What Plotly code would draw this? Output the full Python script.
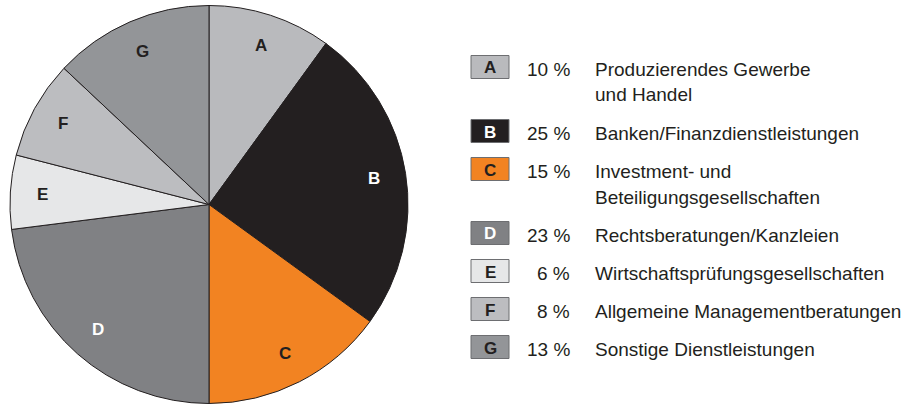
import plotly.graph_objects as go
import math

letters = ["A", "B", "C", "D", "E", "F", "G"]
values = [10, 25, 15, 23, 6, 8, 13]
descriptions = [
    "Produzierendes Gewerbe\nund Handel",
    "Banken/Finanzdienstleistungen",
    "Investment- und\nBeteiligungsgesellschaften",
    "Rechtsberatungen/Kanzleien",
    "Wirtschaftsprüfungsgesellschaften",
    "Allgemeine Managementberatungen",
    "Sonstige Dienstleistungen",
]
colors = ["#b9babd", "#231f20", "#f28322", "#808184", "#e6e7e8", "#bcbdc0", "#939598"]
letter_colors = ["#231f20", "#ffffff", "#231f20", "#ffffff", "#231f20", "#231f20", "#231f20"]

W, H = 919, 405
FONT = "Liberation Sans, Arial, sans-serif"

# pie geometry in pixels
left, right, top, bottom = 10, 408, 5, 404
cx = (left + right) / 2
cy = (top + bottom) / 2
r = min(right - left, bottom - top) / 2

def px(x):
    return x / W

def py(y):
    return 1 - y / H

fig = go.Figure()
fig.add_trace(go.Pie(
    values=values,
    labels=letters,
    sort=False,
    direction="clockwise",
    rotation=0,
    marker=dict(colors=colors, line=dict(color="#231f20", width=1)),
    textinfo="none",
    hoverinfo="label+percent",
    showlegend=False,
    domain=dict(x=[px(left), px(right)], y=[py(bottom), py(top)]),
))

annotations = []
shapes = []
total = sum(values)
cum = 0
for letter, v, lc in zip(letters, values, letter_colors):
    mid = (cum + v / 2) / total * 2 * math.pi
    cum += v
    lx = cx + 0.84 * r * math.sin(mid)
    ly = cy - 0.84 * r * math.cos(mid)
    annotations.append(dict(
        x=px(lx), y=py(ly), xref="paper", yref="paper",
        text=f"<b>{letter}</b>", showarrow=False,
        font=dict(family=FONT, size=17, color=lc),
        xanchor="center", yanchor="middle",
    ))

# legend
TXT = 19
row_y = 67
box_x0, box_x1 = 471, 509
for letter, v, desc, col, lc in zip(letters, values, descriptions, colors, letter_colors):
    shapes.append(dict(
        type="rect", xref="paper", yref="paper",
        x0=px(box_x0), x1=px(box_x1), y0=py(row_y + 11.5), y1=py(row_y - 11.5),
        fillcolor=col, line=dict(color="#6d6e71", width=1),
    ))
    annotations.append(dict(
        x=px((box_x0 + box_x1) / 2), y=py(row_y + 1), xref="paper", yref="paper",
        text=f"<b>{letter}</b>", showarrow=False,
        font=dict(family=FONT, size=17, color=lc),
        xanchor="center", yanchor="middle",
    ))
    annotations.append(dict(
        x=px(572), y=py(row_y + 2), xref="paper", yref="paper",
        text=f"{v} %", showarrow=False,
        font=dict(family=FONT, size=TXT, color="#231f20"),
        xanchor="right", yanchor="middle",
    ))
    lines = desc.split("\n")
    for i, line in enumerate(lines):
        annotations.append(dict(
            x=px(593), y=py(row_y + 2 + i * 26), xref="paper", yref="paper",
            text=line, showarrow=False,
            font=dict(family=FONT, size=TXT, color="#231f20"),
            xanchor="left", yanchor="middle",
        ))
    row_y += 38 + 26 * (len(lines) - 1)

fig.update_layout(
    width=W, height=H,
    margin=dict(l=0, r=0, t=0, b=0),
    paper_bgcolor="white", plot_bgcolor="white",
    annotations=annotations, shapes=shapes,
)

fig.write_html("out.html", config={"displayModeBar": False},
               post_script="document.body.style.margin='0';")
